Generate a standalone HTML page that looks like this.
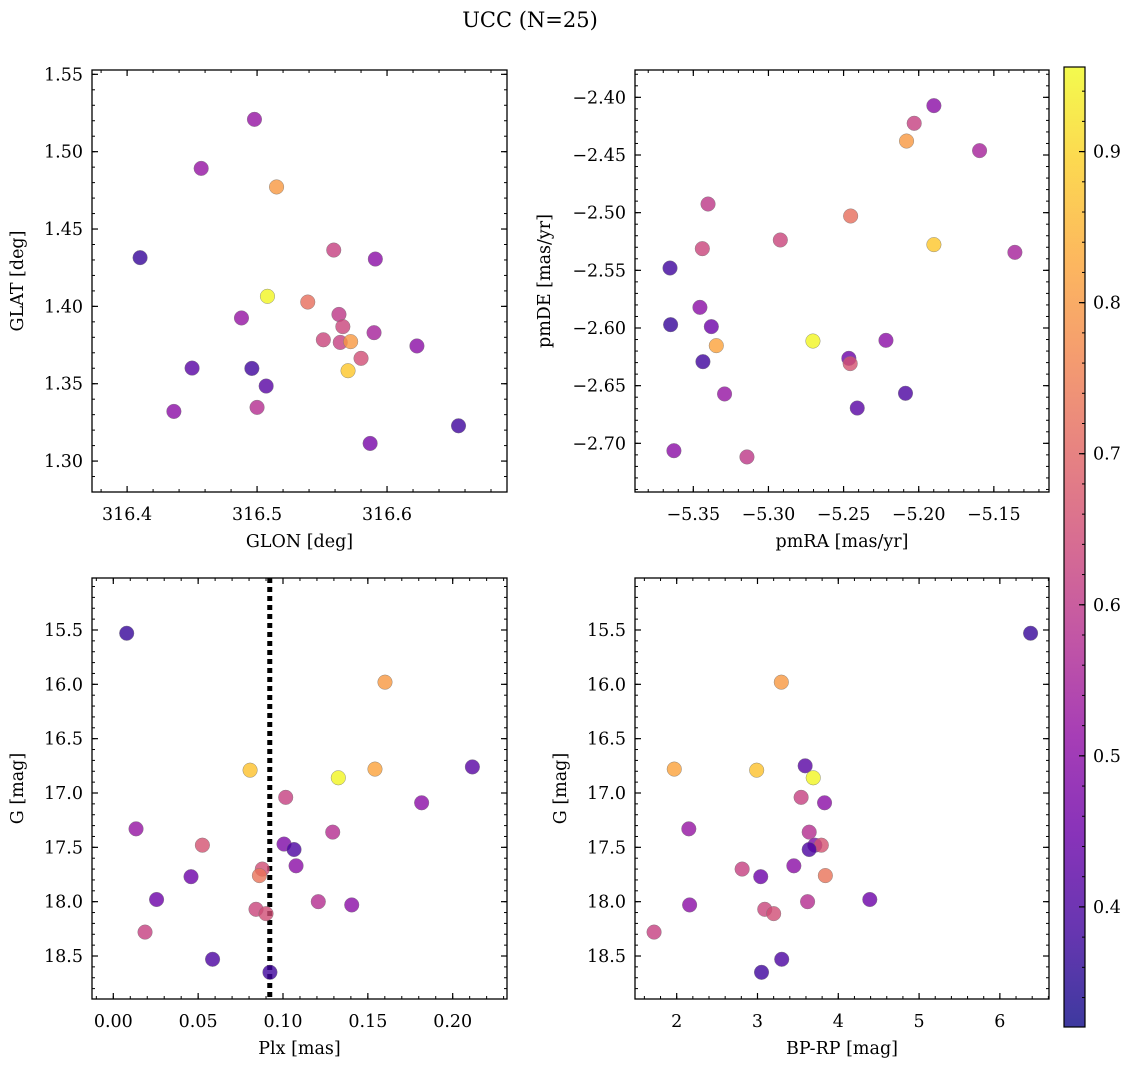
<!DOCTYPE html>
<html><head><meta charset="utf-8">
<style>
body{margin:0;background:#fff;}
svg{display:block;font-family:"DejaVu Serif","Liberation Serif",serif;}
</style></head>
<body>
<svg id="fig" width="1136" height="1067" viewBox="0 0 1136 1067">
<defs>
<linearGradient id="cbgrad" x1="0" y1="1" x2="0" y2="0"></linearGradient>
</defs>
<text x="530" y="27" font-size="21" text-anchor="middle">UCC (N=25)</text>
</svg>
<script>
// ---- data ----
const p1Glon = [316.498,316.457,316.515,316.410,316.559,316.591,316.508,316.539,316.488,316.563,316.566,316.590,316.551,316.564,316.572,316.623,316.580,316.450,316.496,316.570,316.507,316.436,316.500,316.587,316.655];
const p1Glat = [1.5209,1.4892,1.4772,1.4315,1.4364,1.4306,1.4065,1.4028,1.3925,1.3948,1.3869,1.383,1.3784,1.3767,1.3772,1.3744,1.3664,1.3601,1.3599,1.3584,1.3485,1.3321,1.3347,1.3114,1.3228];
const p1Prob = [0.52,0.52,0.80,0.37,0.62,0.50,0.95,0.72,0.52,0.60,0.63,0.55,0.63,0.62,0.80,0.50,0.65,0.42,0.38,0.88,0.42,0.50,0.58,0.47,0.38];

const p2PmRA = [-5.1899,-5.2030,-5.2081,-5.1595,-5.3402,-5.2453,-5.2921,-5.1899,-5.1360,-5.3440,-5.3655,-5.3456,-5.3380,-5.3651,-5.3347,-5.2704,-5.2218,-5.3436,-5.2465,-5.2456,-5.3292,-5.2409,-5.2088,-5.3629,-5.3143];
const p2PmDE = [-2.4072,-2.4225,-2.4379,-2.4462,-2.4925,-2.5029,-2.5237,-2.5277,-2.5344,-2.5312,-2.5480,-2.5821,-2.5988,-2.5971,-2.6153,-2.6113,-2.6107,-2.6292,-2.6263,-2.6309,-2.6572,-2.6694,-2.6566,-2.7064,-2.7118];
const p2Prob = [0.50,0.62,0.80,0.55,0.60,0.72,0.63,0.88,0.55,0.63,0.38,0.50,0.45,0.37,0.82,0.95,0.50,0.38,0.45,0.66,0.52,0.42,0.40,0.50,0.60];

const p3Plx = [0.0079,0.1601,0.0806,0.1326,0.1542,0.2116,0.1016,0.1817,0.0134,0.1293,0.0525,0.1006,0.1065,0.0878,0.1077,0.0861,0.0458,0.0255,0.1208,0.1405,0.0841,0.0900,0.0187,0.0585,0.0923];
const p3G = [15.53,15.98,16.79,16.86,16.78,16.76,17.04,17.09,17.33,17.36,17.48,17.47,17.52,17.70,17.67,17.76,17.77,17.98,18.00,18.03,18.07,18.11,18.28,18.53,18.65];
const p3Prob = [0.37,0.80,0.87,0.95,0.82,0.42,0.62,0.50,0.52,0.58,0.66,0.48,0.40,0.65,0.50,0.73,0.45,0.45,0.58,0.50,0.63,0.65,0.62,0.40,0.38];
const plxLine = [0.0922];

const p4BpRp = [6.38,3.295,1.97,2.99,3.59,3.69,3.54,3.83,2.15,3.64,3.71,3.79,3.64,3.45,2.81,3.84,3.04,4.39,3.62,2.16,3.09,3.20,1.72,3.30,3.05];
const p4G = [15.53,15.98,16.78,16.79,16.75,16.86,17.04,17.09,17.33,17.36,17.48,17.48,17.52,17.67,17.70,17.76,17.77,17.98,18.00,18.03,18.07,18.11,18.28,18.53,18.65];
const p4Prob = [0.37,0.80,0.82,0.87,0.42,0.95,0.62,0.50,0.52,0.58,0.48,0.66,0.40,0.50,0.62,0.73,0.45,0.45,0.58,0.50,0.63,0.65,0.62,0.40,0.38];

const p1XTicks = [316.4,316.5,316.6];
const p1YTicks = [1.30,1.35,1.40,1.45,1.50,1.55];
const p2XTicks = [-5.35,-5.30,-5.25,-5.20,-5.15];
const p2YTicks = [-2.70,-2.65,-2.60,-2.55,-2.50,-2.45,-2.40];
const p3XTicks = [0.00,0.05,0.10,0.15,0.20];
const gTicks = [15.5,16.0,16.5,17.0,17.5,18.0,18.5];
const p4XTicks = [2,3,4,5,6];
const cbTicks = [0.4,0.5,0.6,0.7,0.8,0.9];
const cMin = 0.3205, cMax = 0.956;

// ---- helpers ----
const NS = "http://www.w3.org/2000/svg";
const svg = document.getElementById('fig');
const FS = 17.5;
function mk(tag, attrs, parent){
  const e = document.createElementNS(NS, tag);
  for (const k in attrs) e.setAttribute(k, attrs[k]);
  (parent||svg).appendChild(e);
  return e;
}
const plasma = [[13,8,135],[65,4,157],[106,0,168],[143,13,164],[177,42,144],[204,71,120],[225,100,98],[242,132,75],[252,166,54],[252,206,37],[240,249,33]];
function cmap(t){
  t = Math.max(0, Math.min(1, t));
  const f = t*10, i = Math.min(9, Math.floor(f)), r = f - i;
  const a = plasma[i], b = plasma[i+1];
  return 'rgb(' + a.map((v,k)=>Math.round(v+(b[k]-v)*r)).join(',') + ')';
}
function fmt(v, d){ const s = Math.abs(v).toFixed(d); return (v < -1e-9 ? '\u2212' : '') + s; }

function panel(o){
  const g = mk('g', {});
  
  
  const X = v => o.x0 + (v - o.xmin) / (o.xmax - o.xmin) * (o.x1 - o.x0);
  const Y = o.invert ? (v => o.y0 + (v - o.ymin) / (o.ymax - o.ymin) * (o.y1 - o.y0))
                     : (v => o.y1 - (v - o.ymin) / (o.ymax - o.ymin) * (o.y1 - o.y0));
  const eps = 1e-9;
  for (let v = Math.ceil(o.xmin / o.xminor) * o.xminor; v <= o.xmax + eps; v += o.xminor) {
    const x = X(v);
    mk('line', {x1:x, x2:x, y1:o.y1, y2:o.y1-3, stroke:'#000', 'stroke-width':1}, g);
    mk('line', {x1:x, x2:x, y1:o.y0, y2:o.y0+3, stroke:'#000', 'stroke-width':1}, g);
  }
  for (let v = Math.ceil(o.ymin / o.yminor) * o.yminor; v <= o.ymax + eps; v += o.yminor) {
    const y = Y(v);
    mk('line', {x1:o.x0, x2:o.x0+3, y1:y, y2:y, stroke:'#000', 'stroke-width':1}, g);
    mk('line', {x1:o.x1, x2:o.x1-3, y1:y, y2:y, stroke:'#000', 'stroke-width':1}, g);
  }
  o.xticks.forEach(v => {
    const x = X(v);
    mk('line', {x1:x, x2:x, y1:o.y1, y2:o.y1-6, stroke:'#000', 'stroke-width':1.2}, g);
    mk('line', {x1:x, x2:x, y1:o.y0, y2:o.y0+6, stroke:'#000', 'stroke-width':1.2}, g);
    const t = mk('text', {x:x, y:o.y1+28, 'font-size':FS, 'text-anchor':'middle'}, g);
    
    
    t.textContent = fmt(v, o.xdec);
  });
  o.yticks.forEach(v => {
    const y = Y(v);
    mk('line', {x1:o.x0, x2:o.x0+6, y1:y, y2:y, stroke:'#000', 'stroke-width':1.2}, g);
    mk('line', {x1:o.x1, x2:o.x1-6, y1:y, y2:y, stroke:'#000', 'stroke-width':1.2}, g);
    const t = mk('text', {x:o.x0-9, y:y+6, 'font-size':FS, 'text-anchor':'end'}, g);
    
    
    t.textContent = fmt(v, o.ydec);
  });
  if (o.vline) o.vline.forEach(v => {
    const l = mk('line', {x1:X(v), x2:X(v), y1:o.y0, y2:o.y1, stroke:'#000', 'stroke-width':5, 'stroke-dasharray':'5,4'}, g);
    
    
  });
  for (let i = 0; i < o.xs.length; i++) {
    const c = mk('circle', {cx:X(o.xs[i]), cy:Y(o.ys[i]), r:7.3, fill:cmap((o.cs[i]-cMin)/(cMax-cMin)), 'fill-opacity':0.8, stroke:'#777', 'stroke-width':0.4}, g);
    
    
  }
  const fr = mk('rect', {x:o.x0, y:o.y0, width:o.x1-o.x0, height:o.y1-o.y0, fill:'none', stroke:'#000', 'stroke-width':1.3}, g);
  
  
  const xl = mk('text', {x:(o.x0+o.x1)/2, y:o.y1+55, 'font-size':FS, 'text-anchor':'middle'}, g);
  
  
  xl.textContent = o.xlabel;
  const cy = (o.y0+o.y1)/2;
  const yl = mk('text', {x:o.ylx, y:cy, 'font-size':FS, 'text-anchor':'middle', transform:'rotate(-90 '+o.ylx+' '+cy+')'}, g);
  
  
  yl.textContent = o.ylabel;
}

panel({name:'glon-glat-panel', x0:92, x1:507, y0:70, y1:492, xmin:316.373, xmax:316.6923, ymin:1.28, ymax:1.5528,
  xminor:0.02, yminor:0.01, xticks:p1XTicks, yticks:p1YTicks, xdec:1, ydec:2, xs:p1Glon, ys:p1Glat, cs:p1Prob,
  xlabel:'GLON [deg]', ylabel:'GLAT [deg]', ylx:23});
panel({name:'pm-panel', x0:635, x1:1049, y0:70, y1:492, xmin:-5.3888, xmax:-5.1133, ymin:-2.7422, ymax:-2.3763,
  xminor:0.01, yminor:0.01, xticks:p2XTicks, yticks:p2YTicks, xdec:2, ydec:2, xs:p2PmRA, ys:p2PmDE, cs:p2Prob,
  xlabel:'pmRA [mas/yr]', ylabel:'pmDE [mas/yr]', ylx:550});
panel({name:'plx-g-panel', x0:92, x1:507, y0:578, y1:999, xmin:-0.01255, xmax:0.2320, ymin:15.0216, ymax:18.8956, invert:true,
  xminor:0.01, yminor:0.1, xticks:p3XTicks, yticks:gTicks, xdec:2, ydec:1, xs:p3Plx, ys:p3G, cs:p3Prob, vline:plxLine,
  xlabel:'Plx [mas]', ylabel:'G [mag]', ylx:23});
panel({name:'cmd-panel', x0:635, x1:1049, y0:578, y1:999, xmin:1.484, xmax:6.608, ymin:15.0216, ymax:18.8956, invert:true,
  xminor:0.2, yminor:0.1, xticks:p4XTicks, yticks:gTicks, xdec:0, ydec:1, xs:p4BpRp, ys:p4G, cs:p4Prob,
  xlabel:'BP-RP [mag]', ylabel:'G [mag]', ylx:566});

// colorbar
const grad = document.getElementById('cbgrad');
for (let i = 0; i <= 10; i++) mk('stop', {offset:(i*10)+'%', 'stop-color':cmap(i/10), 'stop-opacity':0.8}, grad);
const cbx0 = 1064, cbx1 = 1085, cby0 = 67, cby1 = 1027;
const CY = v => cby1 - (v - cMin) / (cMax - cMin) * (cby1 - cby0);
const cbg = mk('g', {});


mk('rect', {x:cbx0, y:cby0, width:cbx1-cbx0, height:cby1-cby0, fill:'url(#cbgrad)', stroke:'#000', 'stroke-width':1.2}, cbg);
for (let v = 0.34; v <= 0.951; v += 0.02) {
  const y = CY(v);
  mk('line', {x1:cbx1, x2:cbx1-3, y1:y, y2:y, stroke:'#000', 'stroke-width':1}, cbg);
}
cbTicks.forEach(v => {
  const y = CY(v);
  mk('line', {x1:cbx1, x2:cbx1-6, y1:y, y2:y, stroke:'#000', 'stroke-width':1.2}, cbg);
  const t = mk('text', {x:cbx1+8, y:y+6, 'font-size':FS}, cbg);
  
  
  t.textContent = v.toFixed(1);
});
</script>
</body></html>
